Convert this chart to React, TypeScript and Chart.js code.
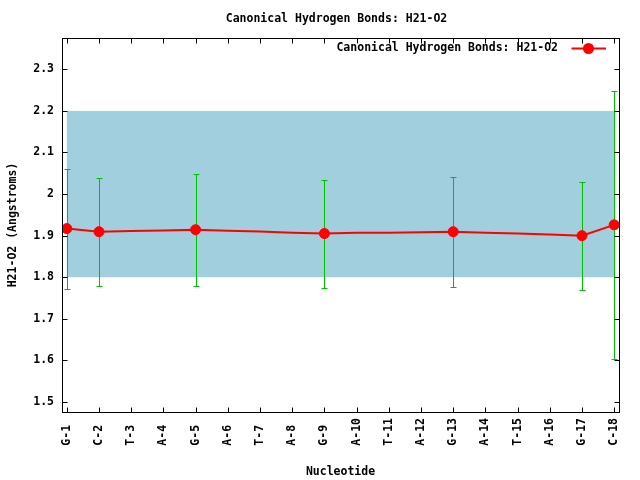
import React, { useEffect, useRef } from "react";
import { Chart, registerables } from "chart.js";

Chart.register(...registerables);

const chartTitle = "Canonical Hydrogen Bonds: H21-O2";
const seriesLabel = "Canonical Hydrogen Bonds: H21-O2";
const xAxisTitle = "Nucleotide";
const yAxisTitle = "H21-O2 (Angstroms)";

const nucleotides = [
  "G-1", "C-2", "T-3", "A-4", "G-5", "A-6", "T-7", "A-8", "G-9",
  "A-10", "T-11", "A-12", "G-13", "A-14", "T-15", "A-16", "G-17", "C-18",
];
const bondValues = [
  1.917, 1.9095, 1.911, 1.9125, 1.9143, 1.912, 1.910, 1.907, 1.905,
  1.907, 1.907, 1.9085, 1.9095, 1.907, 1.905, 1.903, 1.900, 1.926,
];
const hasMarker = [
  true, true, false, false, true, false, false, false, true,
  false, false, false, true, false, false, false, true, true,
];
const errLow: (number | null)[] = [
  1.772, 1.779, null, null, 1.779, null, null, null, 1.773,
  null, null, null, 1.776, null, null, null, 1.769, 1.603,
];
const errHigh: (number | null)[] = [
  2.0595, 2.038, null, null, 2.0475, null, null, null, 2.033,
  null, null, null, 2.04, null, null, null, 2.028, 2.247,
];
const bandRange = [1.8, 2.2];
const yTickValues = [1.5, 1.6, 1.7, 1.8, 1.9, 2.0, 2.1, 2.2, 2.3];
const yLimits = [1.476, 2.3753];
const xLimits = [0.85, 18.15];

const FONT = 'bold 11.5px "DejaVu Sans Mono", monospace';
const RED = "#ff0000";
const GREEN = "#00c000";
const BAND = "#a2cfde";

const gnuplotPlugin = {
  id: "gnuplotLook",
  beforeDatasetsDraw(chart: any) {
    const ctx = chart.ctx;
    const xs = chart.scales.x;
    const ys = chart.scales.y;
    ctx.save();
    // band
    const bx1 = xs.getPixelForValue(1);
    const bx2 = xs.getPixelForValue(nucleotides.length);
    const by1 = ys.getPixelForValue(bandRange[1]);
    const by2 = ys.getPixelForValue(bandRange[0]);
    ctx.fillStyle = BAND;
    ctx.fillRect(bx1, by1, bx2 - bx1, by2 - by1);
    // error bars
    ctx.strokeStyle = GREEN;
    ctx.lineWidth = 1;
    for (let i = 0; i < nucleotides.length; i++) {
      const lo = errLow[i];
      const hi = errHigh[i];
      if (lo == null || hi == null) continue;
      const px = Math.round(xs.getPixelForValue(i + 1)) + 0.5;
      const pl = Math.round(ys.getPixelForValue(lo)) + 0.5;
      const ph = Math.round(ys.getPixelForValue(hi)) + 0.5;
      ctx.beginPath();
      ctx.moveTo(px, pl);
      ctx.lineTo(px, ph);
      ctx.moveTo(px - 3, pl);
      ctx.lineTo(px + 3, pl);
      ctx.moveTo(px - 3, ph);
      ctx.lineTo(px + 3, ph);
      ctx.stroke();
    }
    ctx.restore();
  },
  afterDraw(chart: any) {
    const ctx = chart.ctx;
    const a = chart.chartArea;
    const xs = chart.scales.x;
    const ys = chart.scales.y;
    ctx.save();
    const L = Math.round(a.left) + 0.5;
    const R = Math.round(a.right) + 0.5;
    const T = Math.round(a.top) + 0.5;
    const B = Math.round(a.bottom) + 0.5;
    ctx.strokeStyle = "#000";
    ctx.lineWidth = 1;
    ctx.strokeRect(L, T, R - L, B - T);
    const tl = 5;
    ctx.beginPath();
    for (let i = 0; i < nucleotides.length; i++) {
      const px = Math.round(xs.getPixelForValue(i + 1)) + 0.5;
      ctx.moveTo(px, B);
      ctx.lineTo(px, B - tl);
      ctx.moveTo(px, T);
      ctx.lineTo(px, T + tl);
    }
    for (const v of yTickValues) {
      const py = Math.round(ys.getPixelForValue(v)) + 0.5;
      ctx.moveTo(L, py);
      ctx.lineTo(L + tl, py);
      ctx.moveTo(R, py);
      ctx.lineTo(R - tl, py);
    }
    ctx.stroke();

    ctx.fillStyle = "#000";
    ctx.font = FONT;
    ctx.textBaseline = "middle";
    // title
    ctx.textAlign = "center";
    ctx.fillText(chartTitle, 336.5, 19);
    // x title
    ctx.fillText(xAxisTitle, (a.left + a.right) / 2, 472);
    // y title
    ctx.save();
    ctx.translate(13, (a.top + a.bottom) / 2);
    ctx.rotate(-Math.PI / 2);
    ctx.fillText(yAxisTitle, 0, 0);
    ctx.restore();
    // legend
    ctx.textAlign = "right";
    ctx.fillText(seriesLabel, 558, 48.5);
    ctx.strokeStyle = RED;
    ctx.lineWidth = 2;
    ctx.beginPath();
    ctx.moveTo(571.5, 48.5);
    ctx.lineTo(606, 48.5);
    ctx.stroke();
    ctx.fillStyle = RED;
    ctx.beginPath();
    ctx.arc(588.5, 48.5, 5.5, 0, Math.PI * 2);
    ctx.fill();
    ctx.restore();
  },
};

export default function App() {
  const canvasRef = useRef<HTMLCanvasElement>(null);

  useEffect(() => {
    document.body.style.margin = "0";
    const canvas = canvasRef.current;
    if (!canvas) return;
    const chart = new Chart(canvas, {
      type: "line",
      data: {
        datasets: [
          {
            label: seriesLabel,
            data: bondValues.map((v, i) => ({ x: i + 1, y: v })),
            borderColor: RED,
            backgroundColor: RED,
            borderWidth: 2,
            pointRadius: hasMarker.map((m) => (m ? 5 : 0)),
            pointBorderWidth: 1,
            pointBorderColor: RED,
            pointBackgroundColor: RED,
            pointHoverRadius: 0,
            tension: 0,
            fill: false,
          },
        ],
      },
      plugins: [gnuplotPlugin],
      options: {
        responsive: false,
        animation: false,
        events: [],
        layout: { padding: { top: 38, right: 21, left: 0, bottom: 0 } },
        plugins: {
          legend: { display: false },
          title: { display: false },
          tooltip: { enabled: false },
        },
        scales: {
          x: {
            type: "linear",
            min: xLimits[0],
            max: xLimits[1],
            grid: { display: false, drawTicks: false },
            border: { display: false },
            afterBuildTicks: (scale: any) => {
              scale.ticks = nucleotides.map((_, i) => ({ value: i + 1 }));
            },
            afterFit: (scale: any) => {
              scale.height = 68;
            },
            ticks: {
              autoSkip: false,
              minRotation: 90,
              maxRotation: 90,
              padding: 6,
              color: "#000",
              font: { family: '"DejaVu Sans Mono", monospace', size: 11.5, weight: "bold" },
              callback: (v: any) => {
                const lab = nucleotides[Math.round(Number(v)) - 1] || "";
                return lab.padEnd(4, " ");
              },
            },
          },
          y: {
            type: "linear",
            min: yLimits[0],
            max: yLimits[1],
            grid: { display: false, drawTicks: false },
            border: { display: false },
            afterBuildTicks: (scale: any) => {
              scale.ticks = yTickValues.map((v) => ({ value: v }));
            },
            afterFit: (scale: any) => {
              scale.width = 62;
            },
            ticks: {
              padding: 8,
              color: "#000",
              font: { family: '"DejaVu Sans Mono", monospace', size: 11.5, weight: "bold" },
              callback: (v: any) => String(Number(Number(v).toFixed(1))),
            },
          },
        },
      },
    });
    return () => chart.destroy();
  }, []);

  return (
    <div style={{ position: "absolute", left: 0, top: 0, width: 640, height: 480 }}>
      <canvas ref={canvasRef} width={640} height={480} style={{ width: 640, height: 480 }} />
    </div>
  );
}
